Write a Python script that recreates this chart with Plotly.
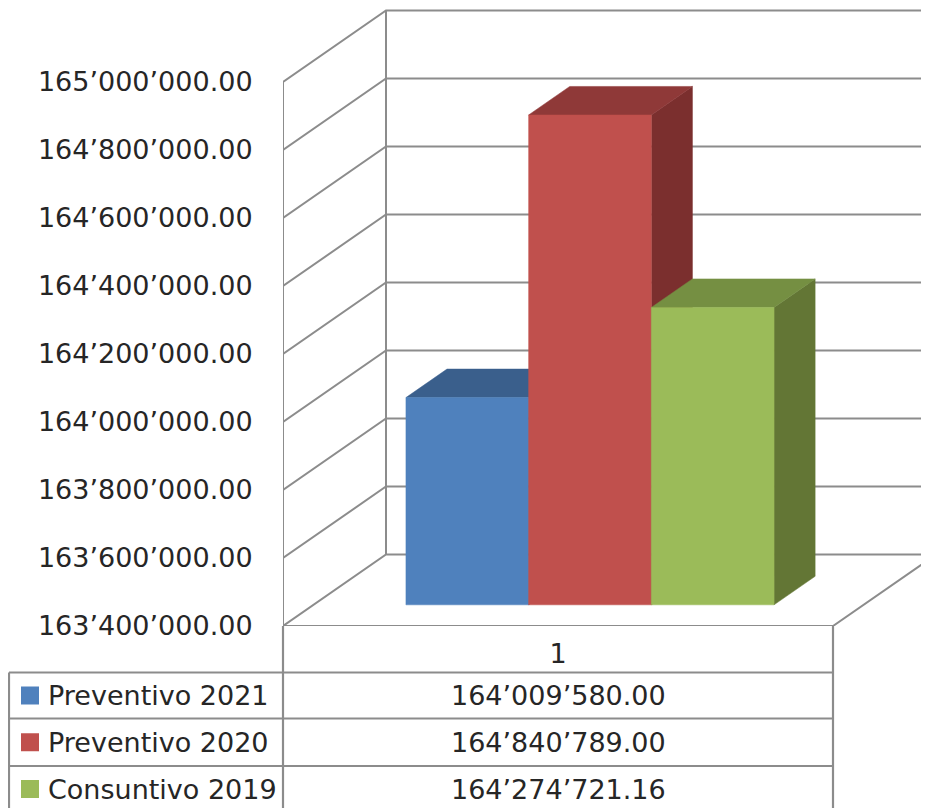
import plotly.graph_objects as go

# Data
series = ["Preventivo 2021", "Preventivo 2020", "Consuntivo 2019"]
values = [164009580.00, 164840789.00, 164274721.16]
category = 1
y_ticks = [163400000, 163600000, 163800000, 164000000, 164200000,
           164400000, 164600000, 164800000, 165000000]

front_colors = ["#4F81BD", "#C0504D", "#9BBB59"]
top_colors = ["#3A5F8C", "#8F3938", "#758F42"]
side_colors = ["#305076", "#7B2F2E", "#637635"]
GRID = "#8C8C8C"
TEXT = "#262626"
FONT = "DejaVu Sans"
FS = 27

OFF = 8                             # page margin around the figure
W, H = 929 - OFF, 808 - OFF
AX_X, AX_Y = 283, 626               # axis corner on the page
ML = AX_X - OFF
PW = W - ML
PH = AX_Y - OFF
CAT_PX = 550                        # width of the single category
UPP = 200000 / 68.0                 # value units per pixel

def fmt(v):
    return f"{v:,.2f}".replace(",", "\u2019")

y0 = y_ticks[0]
xmin = category - 0.5
# oblique projection of depth d in [0,1]
DX = 103 / CAT_PX
DY = 71.5 * UPP
BAR_W = 122.7 / CAT_PX
BAR_SHIFT = 1.5 / CAT_PX
D_FRONT, D_BACK = 0.296, 0.695

def proj(x, v, d):
    return x + d * DX, v + d * DY

fig = go.Figure()

def line_trace(pts, width=2):
    xs, ys = [], []
    for seg in pts:
        for p in seg:
            xs.append(p[0]); ys.append(p[1])
        xs.append(None); ys.append(None)
    fig.add_trace(go.Scatter(x=xs, y=ys, mode="lines", cliponaxis=False,
                             line=dict(color=GRID, width=width),
                             hoverinfo="skip", showlegend=False))

xl = xmin
xr = xmin + 1
xfar = xmin + PW / CAT_PX
segs = []
for t in y_ticks:
    segs.append([proj(xl, t, 0), proj(xl, t, 1), (xfar, proj(xl, t, 1)[1])])
segs.append([proj(xl, y_ticks[0], 1), proj(xl, y_ticks[-1], 1)])
segs.append([(xl, y_ticks[0]), (xl, y_ticks[-1])])
segs.append([(xl, y_ticks[0]), (xr, y_ticks[0]), proj(xr, y_ticks[0], 1)])
line_trace(segs)

def poly(corners, color, name):
    xs = [c[0] for c in corners] + [corners[0][0]]
    ys = [c[1] for c in corners] + [corners[0][1]]
    fig.add_trace(go.Scatter(x=xs, y=ys, mode="lines", fill="toself", fillcolor=color,
                             line=dict(color=color, width=0.5), name=name,
                             hoverinfo="name", showlegend=False))

n = len(values)
for i, (name, v) in enumerate(zip(series, values)):
    a = category + BAR_SHIFT + (i - n / 2) * BAR_W
    b = a + BAR_W
    # side face
    poly([proj(b, y0, D_FRONT), proj(b, y0, D_BACK), proj(b, v, D_BACK), proj(b, v, D_FRONT)],
         side_colors[i], name)
    # top face
    poly([proj(a, v, D_FRONT), proj(a, v, D_BACK), proj(b, v, D_BACK), proj(b, v, D_FRONT)],
         top_colors[i], name)
    # front face
    poly([proj(a, y0, D_FRONT), proj(b, y0, D_FRONT), proj(b, v, D_FRONT), proj(a, v, D_FRONT)],
         front_colors[i], name)

# Data table (below the plot; paper coordinates are relative to the plot area)
def px(x): return (x - AX_X) / PW
def py(y): return (AX_Y - y) / PH

rows_y = [626, 672.5, 718.5, 766]
shapes = []
def sline(x0, yy0, x1, yy1):
    shapes.append(dict(type="line", xref="paper", yref="paper", x0=px(x0), x1=px(x1),
                       y0=py(yy0), y1=py(yy1), line=dict(color=GRID, width=2.2)))
sline(283, 626, 283, 812)
sline(833, 626, 833, 812)
sline(9, 672.5, 9, 812)
for ry in rows_y[1:]:
    sline(9, ry, 833, ry)

annotations = []
for i, name in enumerate(series):
    cy = (rows_y[i + 1] + (rows_y[i + 2] if i + 2 < len(rows_y) else 812)) / 2
    shapes.append(dict(type="rect", xref="paper", yref="paper", x0=px(21), x1=px(39),
                       y0=py(cy - 9), y1=py(cy + 9), fillcolor=front_colors[i], line=dict(width=0)))
    annotations.append(dict(text=name, xref="paper", yref="paper", x=px(46), y=py(cy),
                            xanchor="left", yanchor="middle", showarrow=False,
                            font=dict(family=FONT, size=FS, color=TEXT)))
    annotations.append(dict(text=fmt(values[i]), xref="paper", yref="paper", x=px(558), y=py(cy),
                            xanchor="center", yanchor="middle", showarrow=False,
                            font=dict(family=FONT, size=FS, color=TEXT)))

fig.update_layout(
    width=W, height=H, autosize=False,
    margin=dict(l=ML, r=0, t=0, b=H - PH, pad=0),
    paper_bgcolor="white", plot_bgcolor="white",
    showlegend=False, shapes=shapes, annotations=annotations,
    xaxis=dict(range=[xmin, xmin + PW / CAT_PX], tickmode="array",
               tickvals=[category], ticktext=[str(category)], showgrid=False, zeroline=False,
               showline=False, ticks="outside", ticklen=4, tickcolor="rgba(0,0,0,0)",
               tickfont=dict(family=FONT, size=FS, color=TEXT), fixedrange=True),
    yaxis=dict(range=[y0, y0 + PH * UPP], tickmode="array",
               tickvals=y_ticks, ticktext=[fmt(t) for t in y_ticks], showgrid=False,
               zeroline=False, showline=False, ticks="outside", ticklen=24,
               tickcolor="rgba(0,0,0,0)",
               tickfont=dict(family=FONT, size=FS, color=TEXT), fixedrange=True),
)

fig.write_html("out.html", config=dict(displayModeBar=False),
               default_width=f"{W}px", default_height=f"{H}px")
